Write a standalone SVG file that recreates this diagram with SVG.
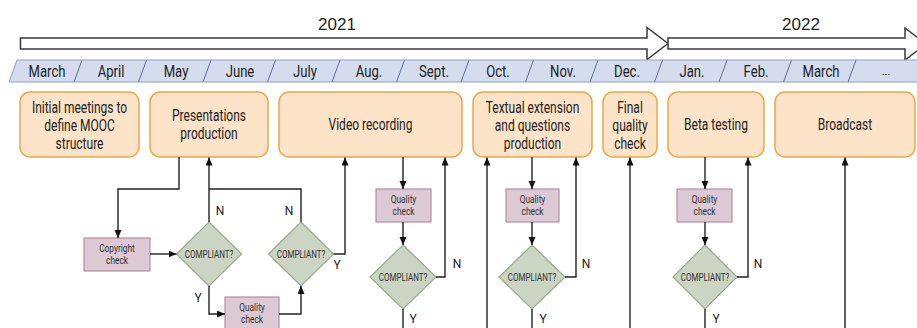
<svg xmlns="http://www.w3.org/2000/svg" width="917" height="328" viewBox="0 0 917 328">
  <style>
    .year { font-family: "Liberation Sans", Arial, sans-serif; font-size: 17px; fill: #222; text-anchor: middle; }
    .month { font-family: Roboto, "Liberation Sans", sans-serif; font-size: 16px; fill: #222; text-anchor: middle; }
    .bigarrow { fill: #fff; stroke: #3a3a3a; stroke-width: 1.5; stroke-linejoin: miter; }
    .band { fill: #d4dcee; stroke: #8d9ec9; stroke-width: 1; }
    .sep { stroke: #5f6f96; stroke-width: 1; }
    .phase rect { fill: #fde3c8; stroke: #eba74c; stroke-width: 1.5; }
    .phase text { font-family: Roboto, "Liberation Sans", sans-serif; font-size: 16px; fill: #222; text-anchor: middle; }
    .check rect { fill: #dcc9d3; stroke: #b48ea1; stroke-width: 1.2; }
    .check text { font-family: Roboto, "Liberation Sans", sans-serif; font-size: 11px; fill: #333; text-anchor: middle; }
    .decision polygon { fill: #ccd4c4; stroke: #98a989; stroke-width: 1.2; }
    .decision text { font-family: Roboto, "Liberation Sans", sans-serif; font-size: 10.5px; fill: #333; text-anchor: middle; }
    .flow path { fill: none; stroke: #222; stroke-width: 1.4; }
    .lbl { font-family: Roboto, "Liberation Sans", sans-serif; font-size: 12px; fill: #222; text-anchor: middle; }
  </style>
  <defs>
    <marker id="tip" markerUnits="userSpaceOnUse" markerWidth="9" markerHeight="8" refX="8" refY="3.5" orient="auto">
      <path d="M0,0 L8,3.5 L0,7 z" fill="#111"/>
    </marker>
  </defs>

  <!-- years -->
  <text class="year" x="337" y="30">2021</text>
  <text class="year" x="801" y="30">2022</text>

  <!-- year arrows -->
  <path class="bigarrow" d="M20.5,38 H647 V27.5 L668,43.5 L647,59.5 V49 H20.5 Z"/>
  <path class="bigarrow" d="M668,38 H905 V28 L926,44 L905,60 V49 H668 Z"/>

  <!-- month band -->
  <g id="months">
    <polygon class="band" points="17,60 930,60 930,82 9,82"/>
    <g class="sep">
      <line x1="82" y1="60" x2="74" y2="82"/>
      <line x1="146.5" y1="60" x2="138.5" y2="82"/>
      <line x1="211" y1="60" x2="203" y2="82"/>
      <line x1="275.5" y1="60" x2="267.5" y2="82"/>
      <line x1="340" y1="60" x2="332" y2="82"/>
      <line x1="404.5" y1="60" x2="396.5" y2="82"/>
      <line x1="469" y1="60" x2="461" y2="82"/>
      <line x1="533.5" y1="60" x2="525.5" y2="82"/>
      <line x1="598" y1="60" x2="590" y2="82"/>
      <line x1="662.5" y1="60" x2="654.5" y2="82"/>
      <line x1="727" y1="60" x2="719" y2="82"/>
      <line x1="791.5" y1="60" x2="783.5" y2="82"/>
      <line x1="856" y1="60" x2="848" y2="82"/>
    </g>
    <text class="month" transform="translate(47,77) scale(0.82,1)">March</text>
    <text class="month" transform="translate(111,77) scale(0.82,1)">April</text>
    <text class="month" transform="translate(176,77) scale(0.82,1)">May</text>
    <text class="month" transform="translate(240,77) scale(0.82,1)">June</text>
    <text class="month" transform="translate(305,77) scale(0.82,1)">July</text>
    <text class="month" transform="translate(369,77) scale(0.82,1)">Aug.</text>
    <text class="month" transform="translate(434,77) scale(0.82,1)">Sept.</text>
    <text class="month" transform="translate(498,77) scale(0.82,1)">Oct.</text>
    <text class="month" transform="translate(563,77) scale(0.82,1)">Nov.</text>
    <text class="month" transform="translate(627,77) scale(0.82,1)">Dec.</text>
    <text class="month" transform="translate(692,77) scale(0.82,1)">Jan.</text>
    <text class="month" transform="translate(756,77) scale(0.82,1)">Feb.</text>
    <text class="month" transform="translate(821,77) scale(0.82,1)">March</text>
    <text class="month" style="font-size:11px" transform="translate(886,75)">...</text>
  </g>

  <!-- phases -->
  <g id="phase-meetings" class="phase">
    <rect x="20" y="92" width="119" height="65" rx="10"/>
    <text transform="translate(79.5,113) scale(0.75,1)"><tspan x="0">Initial meetings to</tspan><tspan x="0" dy="18">define MOOC</tspan><tspan x="0" dy="18">structure</tspan></text>
  </g>
  <g id="phase-presentations" class="phase">
    <rect x="150" y="92" width="118" height="65" rx="10"/>
    <text transform="translate(209,121) scale(0.75,1)"><tspan x="0">Presentations</tspan><tspan x="0" dy="18">production</tspan></text>
  </g>
  <g id="phase-video" class="phase">
    <rect x="279" y="92" width="183" height="65" rx="10"/>
    <text transform="translate(370.5,130) scale(0.75,1)">Video recording</text>
  </g>
  <g id="phase-textual" class="phase">
    <rect x="473" y="92" width="119" height="65" rx="10"/>
    <text transform="translate(532.5,113) scale(0.75,1)"><tspan x="0">Textual extension</tspan><tspan x="0" dy="18">and questions</tspan><tspan x="0" dy="18">production</tspan></text>
  </g>
  <g id="phase-final" class="phase">
    <rect x="603" y="92" width="54" height="65" rx="10"/>
    <text transform="translate(630,113) scale(0.75,1)"><tspan x="0">Final</tspan><tspan x="0" dy="18">quality</tspan><tspan x="0" dy="18">check</tspan></text>
  </g>
  <g id="phase-beta" class="phase">
    <rect x="668" y="92" width="96" height="65" rx="10"/>
    <text transform="translate(716,130) scale(0.75,1)">Beta testing</text>
  </g>
  <g id="phase-broadcast" class="phase">
    <rect x="775" y="92" width="140" height="65" rx="10"/>
    <text transform="translate(845,130) scale(0.75,1)">Broadcast</text>
  </g>

  <!-- checks -->
  <g id="copyright-check" class="check">
    <rect x="84" y="238" width="66" height="33"/>
    <text transform="translate(117,252) scale(0.76,1)"><tspan x="0">Copyright</tspan><tspan x="0" dy="12.5">check</tspan></text>
  </g>
  <g id="quality-check-1" class="check">
    <rect x="225" y="297" width="54" height="33"/>
    <text transform="translate(252,311) scale(0.76,1)"><tspan x="0">Quality</tspan><tspan x="0" dy="12.5">check</tspan></text>
  </g>
  <g id="quality-check-2" class="check">
    <rect x="376" y="189" width="55" height="33"/>
    <text transform="translate(403.5,203) scale(0.76,1)"><tspan x="0">Quality</tspan><tspan x="0" dy="12.5">check</tspan></text>
  </g>
  <g id="quality-check-3" class="check">
    <rect x="506" y="189" width="53" height="33"/>
    <text transform="translate(532.5,203) scale(0.76,1)"><tspan x="0">Quality</tspan><tspan x="0" dy="12.5">check</tspan></text>
  </g>
  <g id="quality-check-4" class="check">
    <rect x="677" y="189" width="55" height="33"/>
    <text transform="translate(704.5,203) scale(0.76,1)"><tspan x="0">Quality</tspan><tspan x="0" dy="12.5">check</tspan></text>
  </g>

  <!-- decisions -->
  <g id="decision-1" class="decision">
    <polygon points="209,222 241.5,254 209,286 176.5,254"/>
    <text transform="translate(209,257.5) scale(0.76,1)">COMPLIANT?</text>
  </g>
  <g id="decision-2" class="decision">
    <polygon points="301,222 333.5,254 301,286 268.5,254"/>
    <text transform="translate(301,257.5) scale(0.76,1)">COMPLIANT?</text>
  </g>
  <g id="decision-3" class="decision">
    <polygon points="403,245 436,277 403,309 370,277"/>
    <text transform="translate(403,280.5) scale(0.76,1)">COMPLIANT?</text>
  </g>
  <g id="decision-4" class="decision">
    <polygon points="532,245 565,277 532,309 499,277"/>
    <text transform="translate(532,280.5) scale(0.76,1)">COMPLIANT?</text>
  </g>
  <g id="decision-5" class="decision">
    <polygon points="705,245 737,277 705,309 673,277"/>
    <text transform="translate(705,280.5) scale(0.76,1)">COMPLIANT?</text>
  </g>

  <!-- connectors -->
  <g id="connectors" class="flow">
    <path d="M179,157 V189 H118 V238" marker-end="url(#tip)"/>
    <path d="M150,254 H176.5" marker-end="url(#tip)"/>
    <path d="M209,222 V157.5" marker-end="url(#tip)"/>
    <path d="M301,222 V189 H209"/>
    <path d="M209,286 V314 H225" marker-end="url(#tip)"/>
    <path d="M279,314 H301 V286" marker-end="url(#tip)"/>
    <path d="M333.5,254 H345 V157.5" marker-end="url(#tip)"/>
    <path d="M403,157 V189" marker-end="url(#tip)"/>
    <path d="M403,222 V245" marker-end="url(#tip)"/>
    <path d="M436,277 H445 V157.5" marker-end="url(#tip)"/>
    <path d="M403,309 V330"/>
    <path d="M487,330 V157.5" marker-end="url(#tip)"/>
    <path d="M532,157 V189" marker-end="url(#tip)"/>
    <path d="M532,222 V245" marker-end="url(#tip)"/>
    <path d="M565,277 H576 V157.5" marker-end="url(#tip)"/>
    <path d="M532,309 V330"/>
    <path d="M630,330 V157.5" marker-end="url(#tip)"/>
    <path d="M705,157 V189" marker-end="url(#tip)"/>
    <path d="M705,222 V245" marker-end="url(#tip)"/>
    <path d="M737,277 H748 V157.5" marker-end="url(#tip)"/>
    <path d="M705,309 V330"/>
    <path d="M845,330 V157.5" marker-end="url(#tip)"/>
  </g>

  <!-- branch labels -->
  <g id="branch-labels">
    <text class="lbl" x="220" y="215">N</text>
    <text class="lbl" x="289" y="215">N</text>
    <text class="lbl" x="198" y="302">Y</text>
    <text class="lbl" x="337" y="269">Y</text>
    <text class="lbl" x="457" y="268">N</text>
    <text class="lbl" x="413" y="323">Y</text>
    <text class="lbl" x="586" y="268">N</text>
    <text class="lbl" x="543" y="323">Y</text>
    <text class="lbl" x="758" y="268">N</text>
    <text class="lbl" x="716" y="323">Y</text>
  </g>
</svg>
